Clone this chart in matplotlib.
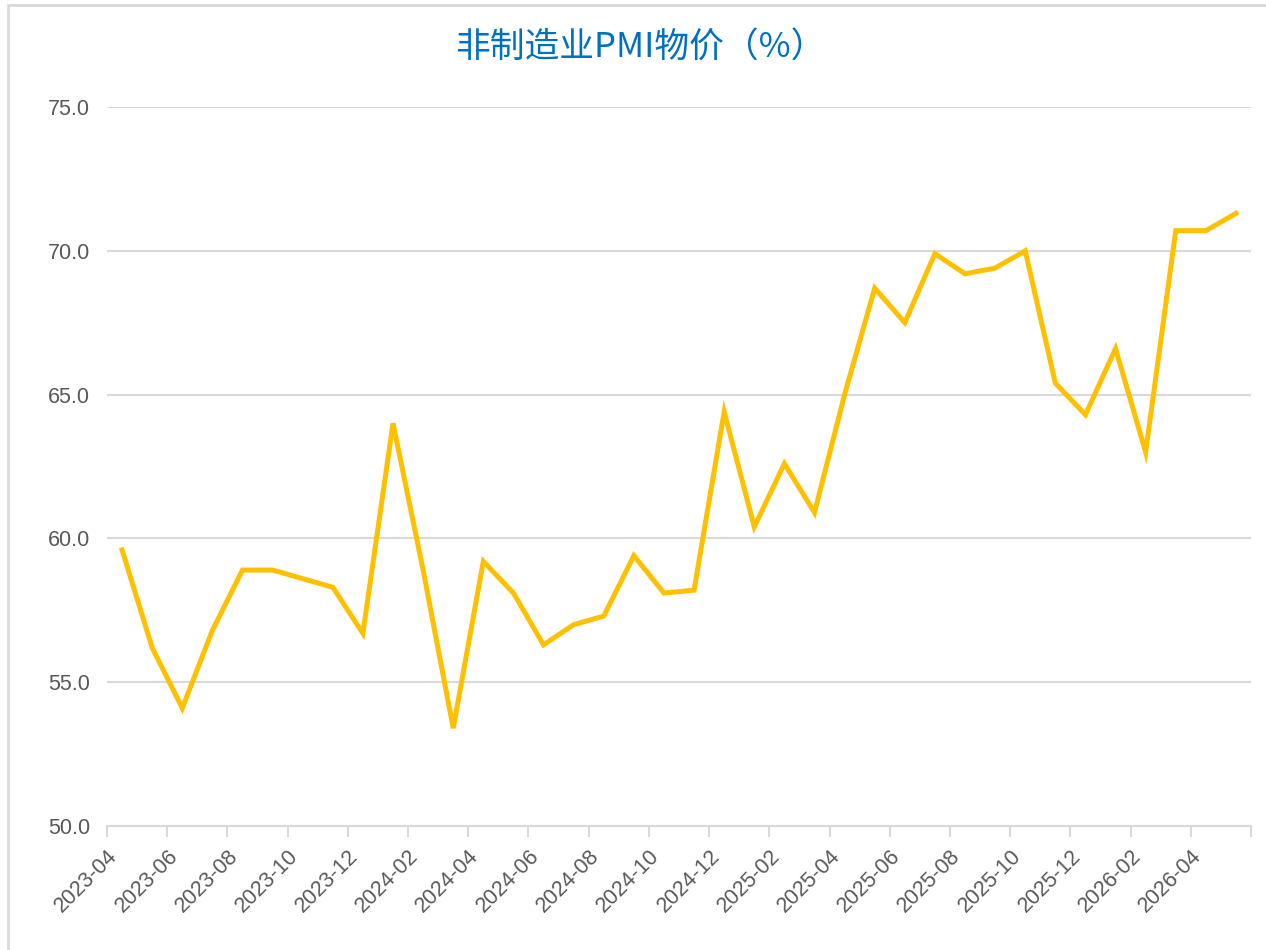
import matplotlib
matplotlib.use("Agg")
import matplotlib.pyplot as plt
from matplotlib.patches import Rectangle

months = ["2023-04", "2023-05", "2023-06", "2023-07", "2023-08", "2023-09", "2023-10", "2023-11",
          "2023-12", "2024-01", "2024-02", "2024-03", "2024-04", "2024-05", "2024-06", "2024-07",
          "2024-08", "2024-09", "2024-10", "2024-11", "2024-12", "2025-01", "2025-02", "2025-03",
          "2025-04", "2025-05", "2025-06", "2025-07", "2025-08", "2025-09", "2025-10", "2025-11",
          "2025-12", "2026-01", "2026-02", "2026-03", "2026-04", "2026-05"]
values = [59.6, 56.2, 54.1, 56.8, 58.9, 58.9, 58.6, 58.3,
          56.7, 64.0, 58.9, 53.4, 59.2, 58.1, 56.3, 57.0,
          57.3, 59.4, 58.1, 58.2, 64.4, 60.4, 62.6, 60.9,
          65.0, 68.7, 67.5, 69.9, 69.2, 69.4, 70.0, 65.4,
          64.3, 66.6, 63.0, 70.7, 70.7, 71.3]
yticks = [50.0, 55.0, 60.0, 65.0, 70.0, 75.0]
title = "非制造业PMI物价（%）"

tick_font = ["Liberation Sans", "DejaVu Sans"]

W, H = 1266, 950
fig = plt.figure(figsize=(W / 100, H / 100), dpi=100)
fig.patches.append(Rectangle((8 / W, -0.1), 1.5, 1 - 5 / H + 0.1, transform=fig.transFigure,
                             fill=False, edgecolor="#D9D9D9", linewidth=2))
ax = fig.add_axes([107 / W, 1 - 826 / H, (1251 - 107) / W, (826 - 107) / H])

x = list(range(len(months)))
ax.plot(x, values, color="#FFC000", linewidth=3.6, solid_joinstyle="miter", zorder=3)

ax.set_xlim(-0.5, len(months) - 0.5)
ax.set_ylim(50, 75)
ax.set_yticks(yticks)
ax.set_yticklabels([f"{v:.1f}" for v in yticks], fontsize=15.5, color="#595959",
                   family=tick_font)
ax.grid(axis="y", color="#D9D9D9", linewidth=1.5)
ax.set_axisbelow(True)
ax.tick_params(axis="y", length=0, pad=12)

tick_pos = [i - 0.5 for i in range(0, len(months) + 1, 2)]
ax.set_xticks(tick_pos)
labels = [months[i] if i < len(months) - 1 else "" for i in range(0, len(months) + 1, 2)]
ax.set_xticklabels(labels, rotation=45, ha="right", rotation_mode="anchor",
                   fontsize=15.5, color="#595959", family=tick_font)
ax.tick_params(axis="x", length=8, width=1.5, color="#D9D9D9", pad=6)

for s in ["top", "right", "left"]:
    ax.spines[s].set_visible(False)
ax.spines["bottom"].set_color("#D9D9D9")
ax.spines["bottom"].set_linewidth(1.5)

fig.text(640 / W, 1 - 48 / H, title, ha="center", va="center", fontsize=25, color="#0070C0",
         family=["Noto Sans CJK SC", "DejaVu Sans"])

fig.savefig("out.png", dpi=100, facecolor="white")
